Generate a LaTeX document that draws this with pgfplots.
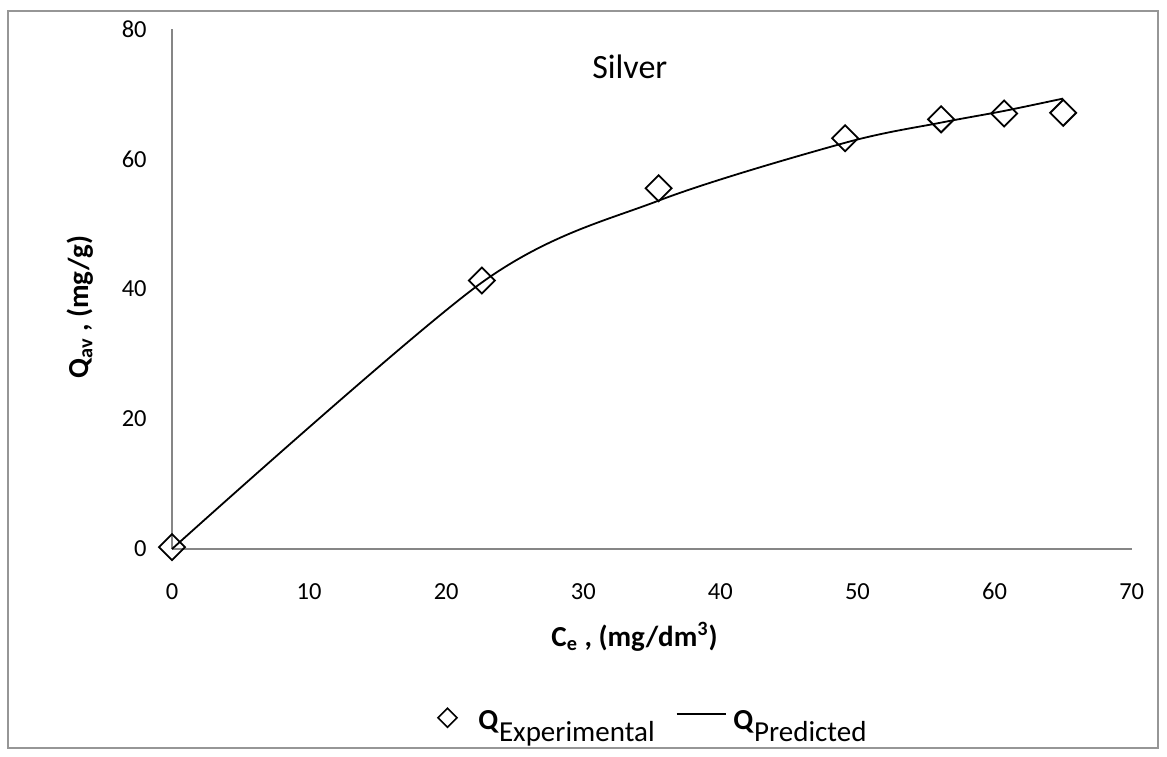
\documentclass[border=0pt]{standalone}
\usepackage{fontspec}
\setmainfont{Carlito}
\usepackage{pgfplots}
\pgfplotsset{compat=1.18}
\definecolor{axgray}{RGB}{134,134,134}
\definecolor{boxgray}{RGB}{150,150,150}
\newcommand{\lblfont}{\fontsize{14.5}{17}\selectfont}
\newcommand{\legfont}{\fontsize{14.5}{17}\selectfont}
\begin{document}
\begin{tikzpicture}
\path[use as bounding box] (-86pt,-103.5pt) rectangle (497.5pt,274.5pt);
\draw[boxgray, line width=0.6pt] (-82pt,-99.5pt) rectangle (493pt,269pt);
\begin{axis}[
  at={(0pt,0pt)}, anchor=south west,
  scale only axis, width=479.85pt, height=260pt,
  xmin=0, xmax=70, ymin=0, ymax=80,
  xtick={0,10,...,70}, ytick={0,20,...,80},
  axis lines=left,
  axis line style={-, axgray, line width=0.75pt},
  major tick length=0pt,
  /pgf/number format/assume math mode=true,
  ticklabel style={font=\fontsize{12.25}{14}\selectfont, inner sep=0pt},
  yticklabel style={anchor=east, xshift=-12.5pt},
  xticklabel style={anchor=north, yshift=-17pt},
  xlabel={\lblfont\textbf{C\textsubscript{e} , (mg/dm\textsuperscript{3})}},
  ylabel={\lblfont\textbf{Q\textsubscript{av} , (mg/g)}},
  xlabel style={at={(axis description cs:0.482,-0.169)}, anchor=center},
  ylabel style={at={(axis description cs:-0.096,0.465)}, anchor=center},
  legend columns=2,
  legend style={at={(axis description cs:0.5,-0.329)}, anchor=center, draw=none, fill=none,
    nodes={inner sep=0pt},
    /tikz/every odd column/.style={column sep=3.5pt},
    /tikz/every even column/.style={column sep=10.5pt}},
  clip=false,
]
\addplot[only marks, mark=square, mark size=4.6pt, mark options={rotate=45, line width=0.9pt, black, fill=white},
  legend image code/.code={\draw[line width=0.8pt] (0pt,2pt) -- (4.75pt,6.75pt) -- (9.5pt,2pt) -- (4.75pt,-2.75pt) -- cycle; \path (16.5pt,0pt);}]
  coordinates {(0,0.3) (22.6,41.3) (35.5,55.5) (49.1,63.2) (56.1,66.1) (60.7,67.0) (65.0,67.1)};
\addlegendentry{\legfont\textbf{Q}\raisebox{-6pt}{Experimental}}
\addplot[black, line width=0.9pt, smooth, tension=0.5,
  legend image code/.code={\draw[line width=0.9pt] (0pt,4pt) -- (24.5pt,4pt);}]
  coordinates {(0,0) (22.6,41.0) (35.5,53.6) (49.1,62.5) (56.1,65.6) (60.7,67.4) (65.0,69.3)};
\addlegendentry{\legfont\textbf{Q}\raisebox{-6pt}{Predicted}}
\node[font=\fontsize{17}{20}\selectfont] at (axis description cs:0.477,0.927) {Silver};
\end{axis}
\end{tikzpicture}
\end{document}
